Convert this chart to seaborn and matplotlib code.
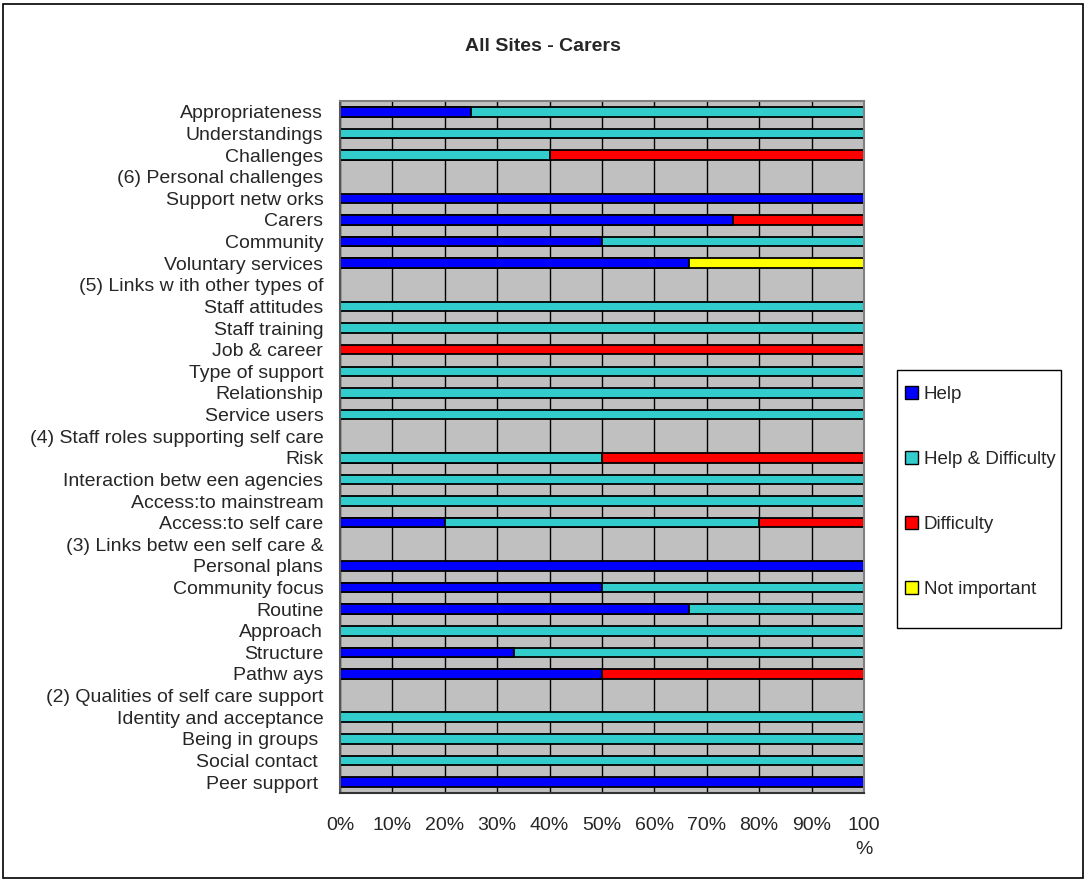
import pandas as pd
import matplotlib.pyplot as plt
import seaborn as sns
from matplotlib.patches import Rectangle, Patch
from matplotlib.ticker import FixedLocator

sns.set_style('white')
plt.rcParams['font.family'] = ['Liberation Sans', 'DejaVu Sans']

categories = [
    'Appropriateness', 'Understandings', 'Challenges', '(6) Personal challenges',
    'Support netw orks', 'Carers', 'Community', 'Voluntary services',
    '(5) Links w ith other types of', 'Staff attitudes', 'Staff training',
    'Job & career', 'Type of support', 'Relationship', 'Service users',
    '(4) Staff roles supporting self care', 'Risk', 'Interaction betw een agencies',
    'Access:to mainstream', 'Access:to self care', '(3) Links betw een self care &',
    'Personal plans', 'Community focus', 'Routine', 'Approach', 'Structure',
    'Pathw ays', '(2) Qualities of self care support', 'Identity and acceptance',
    'Being in groups ', 'Social contact ', 'Peer support ',
]
help_vals = [25, 0, 0, 0, 100, 75, 50, 66.7, 0, 0, 0, 0, 0, 0, 0, 0, 0, 0, 0, 20, 0,
             100, 50, 66.7, 0, 33.3, 50, 0, 0, 0, 0, 100]
help_diff_vals = [75, 100, 40, 0, 0, 0, 50, 0, 0, 100, 100, 0, 100, 100, 100, 0, 50, 100, 100, 60, 0,
                  0, 50, 33.3, 100, 66.7, 0, 0, 100, 100, 100, 0]
difficulty_vals = [0, 0, 60, 0, 0, 25, 0, 0, 0, 0, 0, 100, 0, 0, 0, 0, 50, 0, 0, 20, 0,
                   0, 0, 0, 0, 0, 50, 0, 0, 0, 0, 0]
not_important_vals = [0, 0, 0, 0, 0, 0, 0, 33.3, 0, 0, 0, 0, 0, 0, 0, 0, 0, 0, 0, 0, 0,
                      0, 0, 0, 0, 0, 0, 0, 0, 0, 0, 0]
series = ['Help', 'Help & Difficulty', 'Difficulty', 'Not important']
colors = ['#0000FF', '#33CCCC', '#FF0000', '#FFFF00']
x_labels = ['0%', '10%', '20%', '30%', '40%', '50%', '60%', '70%', '80%', '90%', '100\n%']

df = pd.DataFrame({'category': categories, 'Help': help_vals, 'Help & Difficulty': help_diff_vals,
                   'Difficulty': difficulty_vals, 'Not important': not_important_vals})
# cumulative totals, drawn from the longest layer down so segments stack
cum = df[series].cumsum(axis=1)

fig = plt.figure(figsize=(10.86, 8.82), dpi=100)
ax = fig.add_axes([0.313, 0.101, 0.4825, 0.7845])
ax.set_facecolor('#C0C0C0')
ax.set_axisbelow(True)
ax.xaxis.grid(True, color='black', linewidth=1)

for name, color in reversed(list(zip(series, colors))):
    layer = pd.DataFrame({'category': categories, 'value': cum[name]})
    layer = layer[df[name] > 0]
    sns.barplot(data=layer, x='value', y='category', order=categories, orient='h',
                color=color, width=0.44, edgecolor='black', linewidth=1.3,
                saturation=1, ax=ax)

ax.set_xlim(0, 100)
ax.set_ylim(len(categories) - 0.5, -0.5)
ax.set_xticks(range(0, 101, 10))
ax.set_xticklabels(x_labels, fontsize=14, linespacing=1.6)
ax.tick_params(axis='x', length=5, width=1, color='#333333', pad=12)
ax.set_yticks(range(len(categories)))
ax.set_yticklabels(categories, fontsize=14)
ax.tick_params(axis='y', which='major', length=0, pad=12)
ax.yaxis.set_minor_locator(FixedLocator([i - 0.5 for i in range(len(categories) + 1)]))
ax.tick_params(axis='y', which='minor', length=6, width=1.2, color='#555555')
ax.set_xlabel('')
ax.set_ylabel('')
for side in ['top', 'right']:
    ax.spines[side].set_color('#808080')
    ax.spines[side].set_linewidth(1.5)
ax.spines['left'].set_color('#555555')
ax.spines['left'].set_linewidth(1.5)
ax.spines['bottom'].set_color('#333333')
ax.spines['bottom'].set_linewidth(1.5)

fig.text(0.5, 0.947, 'All Sites - Carers', ha='center', va='center', fontsize=14, fontweight='bold')

handles = [Patch(facecolor=c, edgecolor='black', linewidth=1) for c in colors]
leg = fig.legend(handles, series, loc='upper left', bbox_to_anchor=(0.8333, 0.5625),
                 fontsize=13.5, frameon=False, handlelength=0.7, handleheight=0.7,
                 handletextpad=0.3, labelspacing=2.55, borderpad=0, borderaxespad=0)

# legend box and outer chart border
fig.patches.append(Rectangle((0.826, 0.288), 0.151, 0.2925, transform=fig.transFigure,
                             fill=False, edgecolor='black', linewidth=1))
fig.patches.append(Rectangle((0.003, 0.004), 0.994, 0.992, transform=fig.transFigure,
                             fill=False, edgecolor='black', linewidth=1.2))

fig.savefig('out.png', dpi=100)
